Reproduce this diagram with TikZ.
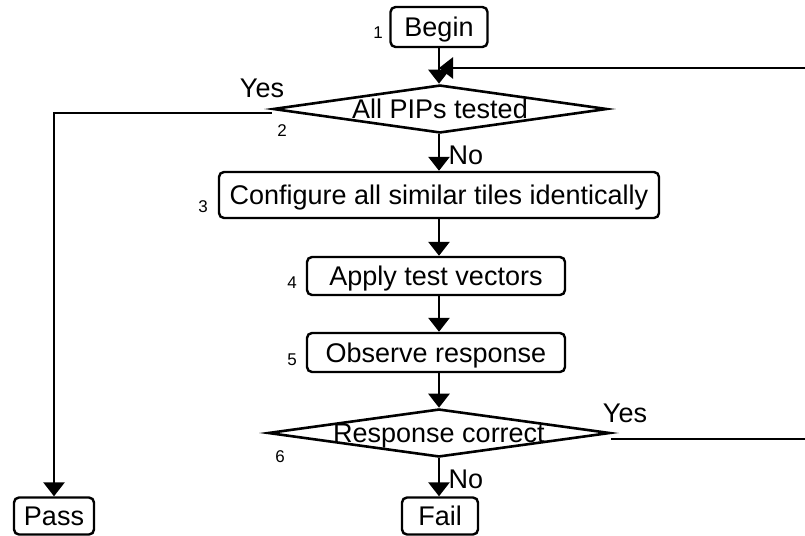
\documentclass[tikz,border=0pt]{standalone}
\usepackage{fontspec}
\setmainfont{Liberation Sans}
\usetikzlibrary{shapes.geometric,arrows.meta}

\begin{document}
\begin{tikzpicture}[x=1pt,y=-1pt,line width=2.8pt,
    >={Triangle[length=14pt,width=21pt]},
    font=\fontsize{27}{29}\selectfont]

      \useasboundingbox (0,0) rectangle (805,535);

      \begin{scope}[every node/.style={rectangle,rounded corners=5pt,draw,line width=2.4pt,inner sep=0pt,text depth=0pt}]
        \node[minimum width=97pt,minimum height=40pt]  (1)    at (439,27)    {Begin};
        \node[minimum width=440pt,minimum height=46pt] (3)    at (439,195)   {Configure all similar tiles identically};
        \node[minimum width=258pt,minimum height=38pt] (4)    at (436,276)   {Apply test vectors};
        \node[minimum width=258pt,minimum height=39pt] (5)    at (436,352.5) {Observe response};
        \node[minimum width=80pt,minimum height=37pt]  (pass) at (54,516)    {Pass};
        \node[minimum width=76pt,minimum height=37pt]  (fail) at (440,516)   {Fail};
      \end{scope}

      \begin{scope}[every node/.style={diamond,draw,line width=2.6pt,inner sep=0pt}]
        \node[minimum width=334pt,minimum height=48pt] (2) at (440,109) {};
        \node[minimum width=342pt,minimum height=48pt] (6) at (439,433) {};
      \end{scope}
      \node[text depth=0pt] (t2) at (2) {All PIPs tested};
      \node[text depth=0pt] (t6) at (6) {Response correct};

      \begin{scope}[every node/.style={font=\fontsize{17}{19}\selectfont}]
        \node (n1) at (378,33)  {1};
        \node (n2) at (282,131) {2};
        \node (n3) at (203,207) {3};
        \node (n4) at (292,283) {4};
        \node (n5) at (292,360) {5};
        \node (n6) at (280,457) {6};
      \end{scope}

      \node (yes2) at (262,88)  {Yes};
      \node (no2)  at (466,155) {No};
      \node (yes6) at (625,413) {Yes};
      \node (no6)  at (466,479) {No};

      \coordinate (r1) at (805,68);
      \coordinate (r6) at (805,439);

      \draw[->] (1.south) -- (2.north -| 1.south);
      \draw[->] (2.south -| 1.south) -- (3.north -| 1.south);
      \draw[->] (3.south -| 1.south) -- (4.north -| 1.south);
      \draw[->] (4.south -| 1.south) -- (5.north -| 1.south);
      \draw[->] (5.south -| 1.south) -- (6.north);
      \draw[->] (6.south) -- (fail.north -| 6.south);
      \draw[->] ([yshift=-4pt]2.west) -| (pass.north);
      \draw ([yshift=-6pt]6.east) -- (r6);
      \draw[->] (r1) -- (1.south |- r1);

    \end{tikzpicture}
\end{document}
